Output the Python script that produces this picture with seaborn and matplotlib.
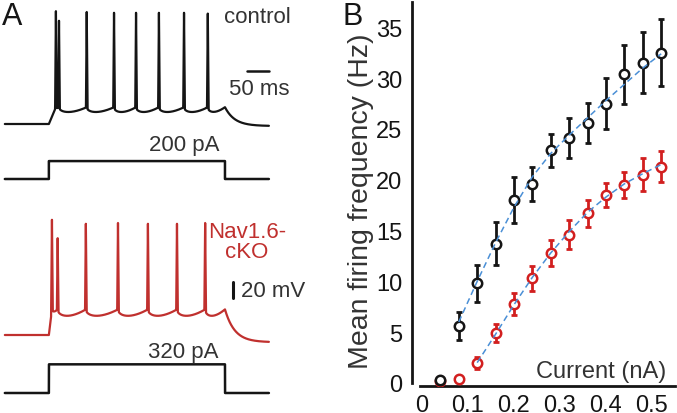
import numpy as np
import pandas as pd
import matplotlib
matplotlib.use("Agg")
import matplotlib.pyplot as plt
import seaborn as sns

sns.set_style("white")
plt.rcParams['font.family'] = ['Liberation Sans', 'DejaVu Sans']

# --- panel B data: mean firing frequency vs injected current ---
current_nA = [0.04, 0.08, 0.12, 0.16, 0.20, 0.24, 0.28, 0.32, 0.36, 0.40, 0.44, 0.48, 0.52]
ctrl_hz = [0.3, 5.6, 9.8, 13.7, 18.0, 19.6, 22.9, 24.1, 25.6, 27.5, 30.4, 31.5, 32.5]
ctrl_err = [0.2, 1.4, 1.8, 2.1, 2.3, 1.7, 1.6, 2.0, 2.0, 2.5, 2.9, 3.0, 3.3]
cko_hz = [0.2, 0.4, 2.0, 4.9, 7.8, 10.3, 12.8, 14.6, 16.7, 18.5, 19.5, 20.5, 21.3]
cko_err = [0.1, 0.1, 0.6, 0.9, 1.1, 1.2, 1.3, 1.4, 1.3, 1.2, 1.3, 1.6, 1.5]

ctrl_fit_x = [0.08, 0.12, 0.16, 0.20, 0.24, 0.28, 0.32, 0.36, 0.40, 0.44, 0.48, 0.52]
ctrl_fit_y = [6.0, 10.0, 13.8, 17.3, 20.3, 22.6, 24.4, 26.1, 27.8, 29.4, 31.0, 32.4]
cko_fit_x = [0.12, 0.16, 0.20, 0.24, 0.28, 0.32, 0.36, 0.40, 0.44, 0.48, 0.52]
cko_fit_y = [2.0, 4.8, 7.7, 10.4, 12.8, 14.9, 16.8, 18.3, 19.6, 20.6, 21.5]

# --- panel A data: example traces (ms, mV, pA) ---
step_on, step_off = 0, 400
ctrl_spikes_ms = [16, 23, 86, 148, 198, 250, 307, 361]
ctrl_peaks_mv = [71, 59, 70, 69, 69, 69, 69, 68]
ctrl_levels = dict(base=-70, thr=-49, trough=-55, end=-72.5)
ctrl_step_pA = 200

cko_spikes_ms = [7, 20, 84, 157, 225, 291, 355]
cko_peaks_mv = [74, 51, 69, 70, 69, 69, 70]
cko_levels = dict(base=-70, thr=-38, trough=-46, end=-79)
cko_step_pA = 320

BLACK = "#151515"
RED_TRACE = "#c0302e"
RED = "#d21f1f"
FIT = "#4a8fd6"
GREY = "#333333"
FS = 16
TICK_FS = 17


def build_trace(t, spikes, peaks, base, thr, trough, end):
    v = np.full_like(t, float(base))
    rise = (t >= step_on) & (t < spikes[0])
    v[rise] = base + (thr - base) * (t[rise] - step_on) / (spikes[0] - step_on)
    bounds = list(spikes) + [min(spikes[-1] + 55, step_off)]
    for a, b in zip(bounds[:-1], bounds[1:]):
        m = (t >= a) & (t < b)
        u = (t[m] - a) / (b - a)
        shape = np.sqrt(u) * (1 - u) / 0.385
        depth = (thr - trough) * min(1.0, (b - a) / 40)
        v[m] = thr - depth * shape
    m = (t >= bounds[-1]) & (t < step_off)
    v[m] = thr
    m = t >= step_off
    v[m] = end + (thr - end) * np.exp(-(t[m] - step_off) / 22)
    for s, p in zip(spikes, peaks):
        spike = p - (p - thr) * np.abs(t - s) / 1.8
        v = np.maximum(v, spike)
    return v


t = np.arange(-100, 500, 0.25)
ctrl_v = build_trace(t, ctrl_spikes_ms, ctrl_peaks_mv, **ctrl_levels)
cko_v = build_trace(t, cko_spikes_ms, cko_peaks_mv, **cko_levels)
on = ((t >= step_on) & (t < step_off)).astype(float)

fig = plt.figure(figsize=(6.77, 4.14), dpi=100)

# ----- panel A -----
axA = fig.add_axes([0, 0, 280 / 677, 1])
axA.set_xlim(-111, 525)
axA.set_ylim(-517.5, 0)

pA_scale = 0.112
df_a = pd.DataFrame({"t": t, "ctrl": ctrl_v - 86.25, "cko": cko_v - 350,
                     "ctrl_i": on * ctrl_step_pA * pA_scale - 225,
                     "cko_i": on * cko_step_pA * pA_scale - 492.5})
sns.lineplot(data=df_a, x="t", y="ctrl", color=BLACK, lw=1.6, ax=axA, estimator=None, sort=False)
sns.lineplot(data=df_a, x="t", y="cko", color=RED_TRACE, lw=1.6, ax=axA, estimator=None, sort=False)
sns.lineplot(data=df_a, x="t", y="ctrl_i", color=BLACK, lw=1.8, ax=axA, estimator=None, sort=False,
             drawstyle="steps-post")
sns.lineplot(data=df_a, x="t", y="cko_i", color=BLACK, lw=1.8, ax=axA, estimator=None, sort=False,
             drawstyle="steps-post")
axA.axis("off")

# scale bars
axA.plot([450, 500], [-90, -90], color=BLACK, lw=1.8)
axA.plot([418, 418], [-354, -374], color=BLACK, lw=2.2)
axA.text(473, -22, "control", color=GREY, fontsize=FS, ha="center", va="center")
axA.text(477, -112, "50 ms", color=GREY, fontsize=FS, ha="center", va="center")
axA.text(307, -182, "200 pA", color=GREY, fontsize=FS, ha="center", va="center")
axA.text(450, -303, "Nav1.6-\ncKO", color=RED_TRACE, fontsize=FS, ha="center", va="center",
         linespacing=0.9)
axA.text(436, -364, "20 mV", color=GREY, fontsize=FS, ha="left", va="center")
axA.text(305, -441, "320 pA", color=GREY, fontsize=FS, ha="center", va="center")
fig.text(12 / 677, 1 - 17 / 414, "A", fontsize=22, ha="center", va="center", color=BLACK)
fig.text(353 / 677, 1 - 17 / 414, "B", fontsize=22, ha="center", va="center", color=BLACK)

# ----- panel B -----
axB = fig.add_axes([412 / 677, 1 - 387 / 414, 263 / 677, 384 / 414])
for ys, err, col in [(cko_hz, cko_err, RED), (ctrl_hz, ctrl_err, BLACK)]:
    axB.errorbar(current_nA, ys, yerr=err, fmt="none", ecolor=col, elinewidth=2,
                 capsize=2.5, capthick=2, zorder=2)
    sns.scatterplot(x=current_nA, y=ys, ax=axB, marker="o", s=46, facecolor="white",
                    edgecolor=col, linewidth=1.8, zorder=3)
sns.lineplot(x=ctrl_fit_x, y=ctrl_fit_y, ax=axB, color=FIT, lw=1.1, dashes=(4, 2.5), zorder=4)
sns.lineplot(x=cko_fit_x, y=cko_fit_y, ax=axB, color=FIT, lw=1.1, dashes=(4, 2.5), zorder=4)

axB.set_xlim(-0.0217, 0.55)
axB.set_ylim(-0.3, 37.5)
axB.set_xticks([0, 0.1, 0.2, 0.3, 0.4, 0.5])
axB.set_xticklabels(["0", "0.1", "0.2", "0.3", "0.4", "0.5"])
axB.set_yticks([0, 5, 10, 15, 20, 25, 30, 35])
sns.despine(ax=axB)
axB.spines["left"].set_bounds(0, 37.5)
axB.spines["bottom"].set_bounds(-0.004, 0.55)
for sp in ["left", "bottom"]:
    axB.spines[sp].set_linewidth(2)
    axB.spines[sp].set_color(BLACK)
axB.tick_params(axis="both", direction="out", length=5, width=1.8, labelsize=TICK_FS,
                colors=BLACK)
axB.tick_params(axis="x", pad=0.5)
axB.tick_params(axis="y", pad=2)
axB.set_ylabel("Mean firing frequency (Hz)", fontsize=20.5, color=GREY)
axB.yaxis.set_label_coords(-0.145, 0.485)
axB.set_xlabel("")
axB.text(0.389, 1.2, "Current (nA)", fontsize=17, color=GREY, ha="center", va="center")

fig.savefig("out.png", dpi=100)
